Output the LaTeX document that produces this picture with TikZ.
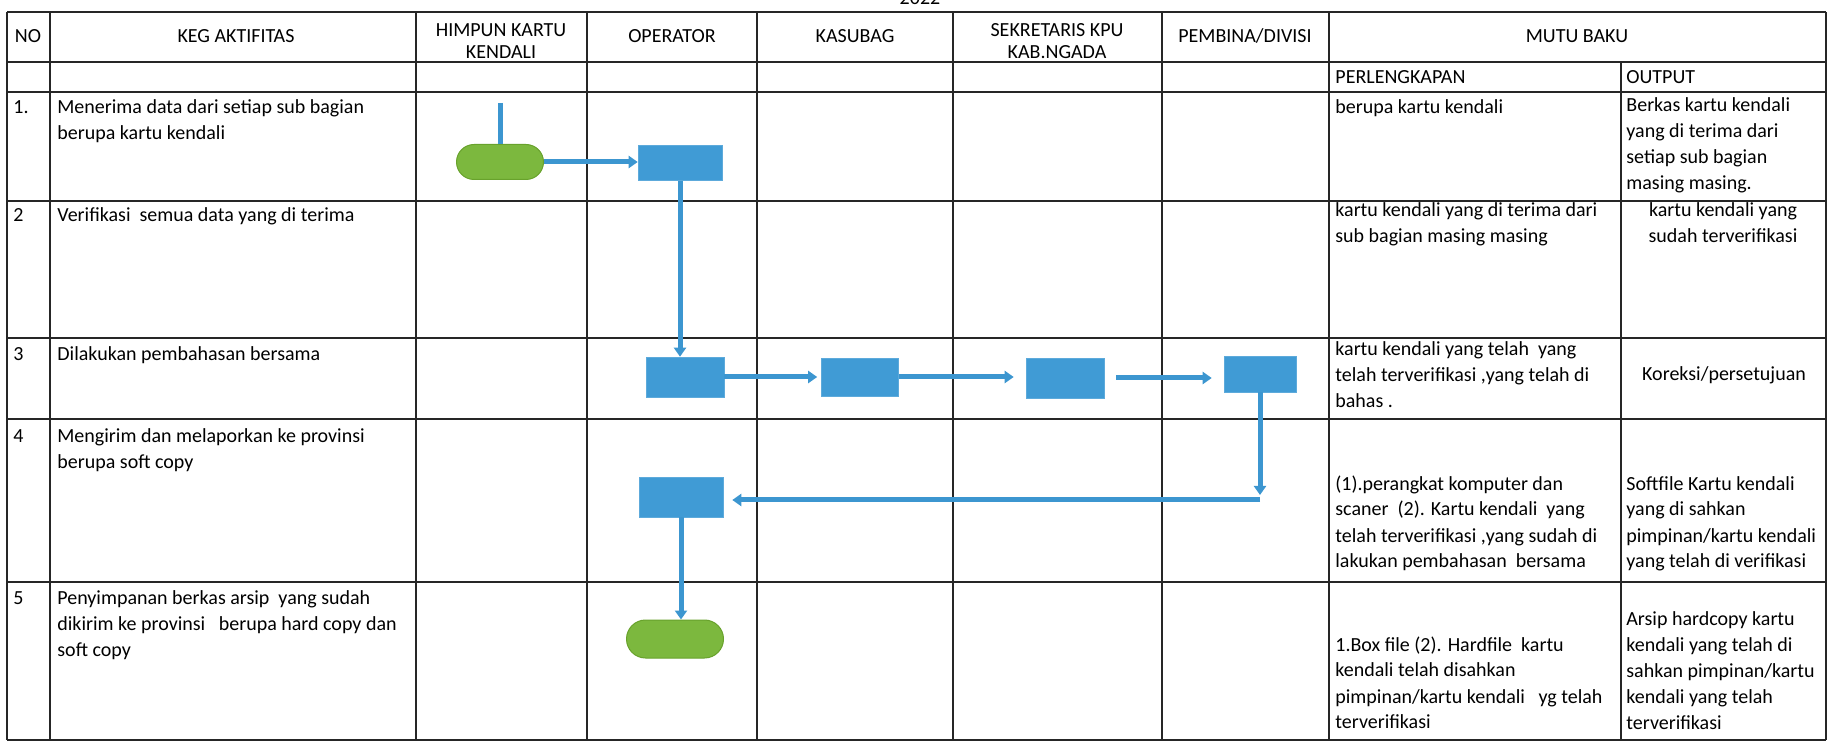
\documentclass[tikz,border=0pt]{standalone}
\usepackage{fontspec}
\setmainfont{Carlito}
\usetikzlibrary{arrows.meta,shapes.misc}
\definecolor{boxblue}{RGB}{64,155,213}
\definecolor{lineblue}{RGB}{60,150,208}
\definecolor{pillgreen}{RGB}{124,184,62}
\definecolor{pillborder}{RGB}{104,162,44}
\definecolor{gridc}{RGB}{38,38,38}
\newcommand{\tl}[1]{\begin{tabular}[t]{@{}l@{}}#1\end{tabular}}
\newcommand{\tc}[1]{\begin{tabular}[t]{@{}c@{}}#1\end{tabular}}
\begin{document}
\begin{tikzpicture}[x=0.5pt,y=-0.5pt,
  grid/.style={draw=gridc,line width=0.9pt},
  txt/.style={inner sep=0pt,anchor=base west,font=\fontsize{10}{13}\selectfont},
  ctxt/.style={inner sep=0pt,anchor=base,font=\fontsize{10}{13}\selectfont},
  hdr/.style={inner sep=0pt,anchor=base,font=\fontsize{10}{11}\selectfont},
  proc/.style={fill=boxblue,draw=boxblue!85!white,line width=0.3pt,inner sep=0pt,minimum width=42pt,minimum height=18pt},
  term/.style={rounded rectangle,fill=pillgreen,draw=pillborder,line width=0.5pt,inner sep=0pt,minimum width=44pt,minimum height=18pt},
  wire/.style={draw=lineblue,line width=2.5pt},
  flow/.style={draw=lineblue,line width=2.5pt,-{Triangle[length=4.5pt,width=6pt]}}]
\useasboundingbox (0,0) rectangle (1828,743);
% table grid
\foreach \yy in {12,62,92,201,338,419,582,740}
  \draw[grid] (7,\yy) -- (1826,\yy);
\foreach \xx in {7,50,416,587,757,953,1162,1329,1826}
  \draw[grid] (\xx,12) -- (\xx,740);
\draw[grid] (1621,62) -- (1621,740);
% year
\node[hdr] (year) at (920,5) {2022};
% header
\node[hdr] (hno) at (28,43) {NO};
\node[hdr] (hkeg) at (236,43) {KEG AKTIFITAS};
\node[hdr] (hhim) at (501,37) {\tc{HIMPUN KARTU\\KENDALI}};
\node[hdr] (hop) at (672,43) {OPERATOR};
\node[hdr] (hkas) at (855,43) {KASUBAG};
\node[hdr] (hsek) at (1057,37) {\tc{SEKRETARIS KPU\\KAB.NGADA}};
\node[hdr] (hpem) at (1245,43) {PEMBINA/DIVISI};
\node[hdr] (hmutu) at (1577,43) {MUTU BAKU};
\node[txt] (hperl) at (1335,84) {PERLENGKAPAN};
\node[txt] (hout) at (1626,84) {OUTPUT};
% numbers
\node[txt] (n1) at (13,114) {1.};
\node[txt] (n2) at (13,222) {2};
\node[txt] (n3) at (13,361) {3};
\node[txt] (n4) at (13,443) {4};
\node[txt] (n5) at (13,604) {5};
% activities
\node[txt] (a1) at (57,114) {\tl{Menerima data dari setiap sub bagian\\berupa kartu kendali}};
\node[txt] (a2) at (57,222) {Verifikasi~ semua data yang di terima};
\node[txt] (a3) at (57,361) {Dilakukan pembahasan bersama};
\node[txt] (a4) at (57,443) {\tl{Mengirim dan melaporkan ke provinsi\\berupa soft copy}};
\node[txt] (a5) at (57,604) {\tl{Penyimpanan berkas arsip~ yang sudah\\dikirim ke provinsi~~ berupa hard copy dan\\soft copy}};
% perlengkapan
\node[txt] (p1t) at (1335,114) {berupa kartu kendali};
\node[txt] (p2t) at (1335,217) {\tl{kartu kendali yang di terima dari\\sub bagian masing masing}};
\node[txt] (p3t) at (1335,356) {\tl{kartu kendali yang telah~ yang\\telah terverifikasi ,yang telah di\\bahas .}};
\node[txt] (p4t) at (1335,490) {\tl{(1).perangkat komputer dan\\scaner~ (2). Kartu kendali~ yang\\telah terverifikasi ,yang sudah di\\lakukan pembahasan~ bersama}};
\node[txt] (p5t) at (1335,651) {\tl{1.Box file (2). Hardfile~ kartu\\kendali telah disahkan\\pimpinan/kartu kendali~~ yg telah\\terverifikasi}};
% output
\node[txt] (o1t) at (1626,112) {\tl{Berkas kartu kendali\\yang di terima dari\\setiap sub bagian\\masing masing.}};
\node[ctxt] (o2t) at (1723,217) {\tc{kartu kendali yang\\sudah terverifikasi}};
\node[ctxt] (o3t) at (1724,381) {Koreksi/persetujuan};
\node[txt] (o4t) at (1626,490) {\tl{Softfile Kartu kendali\\yang di sahkan\\pimpinan/kartu kendali\\yang telah di verifikasi}};
\node[txt] (o5t) at (1626,625) {\tl{Arsip hardcopy kartu\\kendali yang telah di\\sahkan pimpinan/kartu\\kendali yang telah\\terverifikasi}};
% flow shapes
\node[term,minimum width=43.5pt,minimum height=17.5pt] (t1) at (500,162) {};
\node[proc,minimum width=42pt,minimum height=17.5pt] (b1) at (680,163) {};
\node[proc,minimum width=39pt,minimum height=20pt] (bA) at (685,377) {};
\node[proc,minimum width=38.5pt,minimum height=19pt] (bB) at (860,377) {};
\node[proc,minimum width=39pt,minimum height=20pt] (bC) at (1065,378) {};
\node[proc,minimum width=36pt,minimum height=18pt] (bD) at (1260,374) {};
\node[proc,minimum width=42pt,minimum height=20pt] (bE) at (681,497) {};
\node[term,minimum width=48.5pt,minimum height=19pt] (t2) at (675,639) {};
\coordinate (s0) at (500,103);
\coordinate (d1) at (1262,495);
\coordinate (d2) at (1260,500);
% connectors
\draw[wire] (s0) -- (t1.north);
\draw[flow] (t1.east) -- (t1.east -| b1.west);
\draw[flow] (b1.south) -- (b1.south |- bA.north);
\draw[flow,shorten >=2pt] (bA.east) -- (bA.east -| bB.west);
\draw[flow,shorten >=6pt] (bB.east) -- (bB.east -| bC.west);
\draw[flow,shorten <=6pt,shorten >=6pt] (bC.east) -- (bC.east -| bD.west);
\draw[flow] (bD.south) -- (bD.south |- d1);
\draw[flow,shorten >=4.5pt] (d2) -- (d2 -| bE.east);
\draw[flow] (bE.south) -- (bE.south |- t2.north);
\end{tikzpicture}
\end{document}
